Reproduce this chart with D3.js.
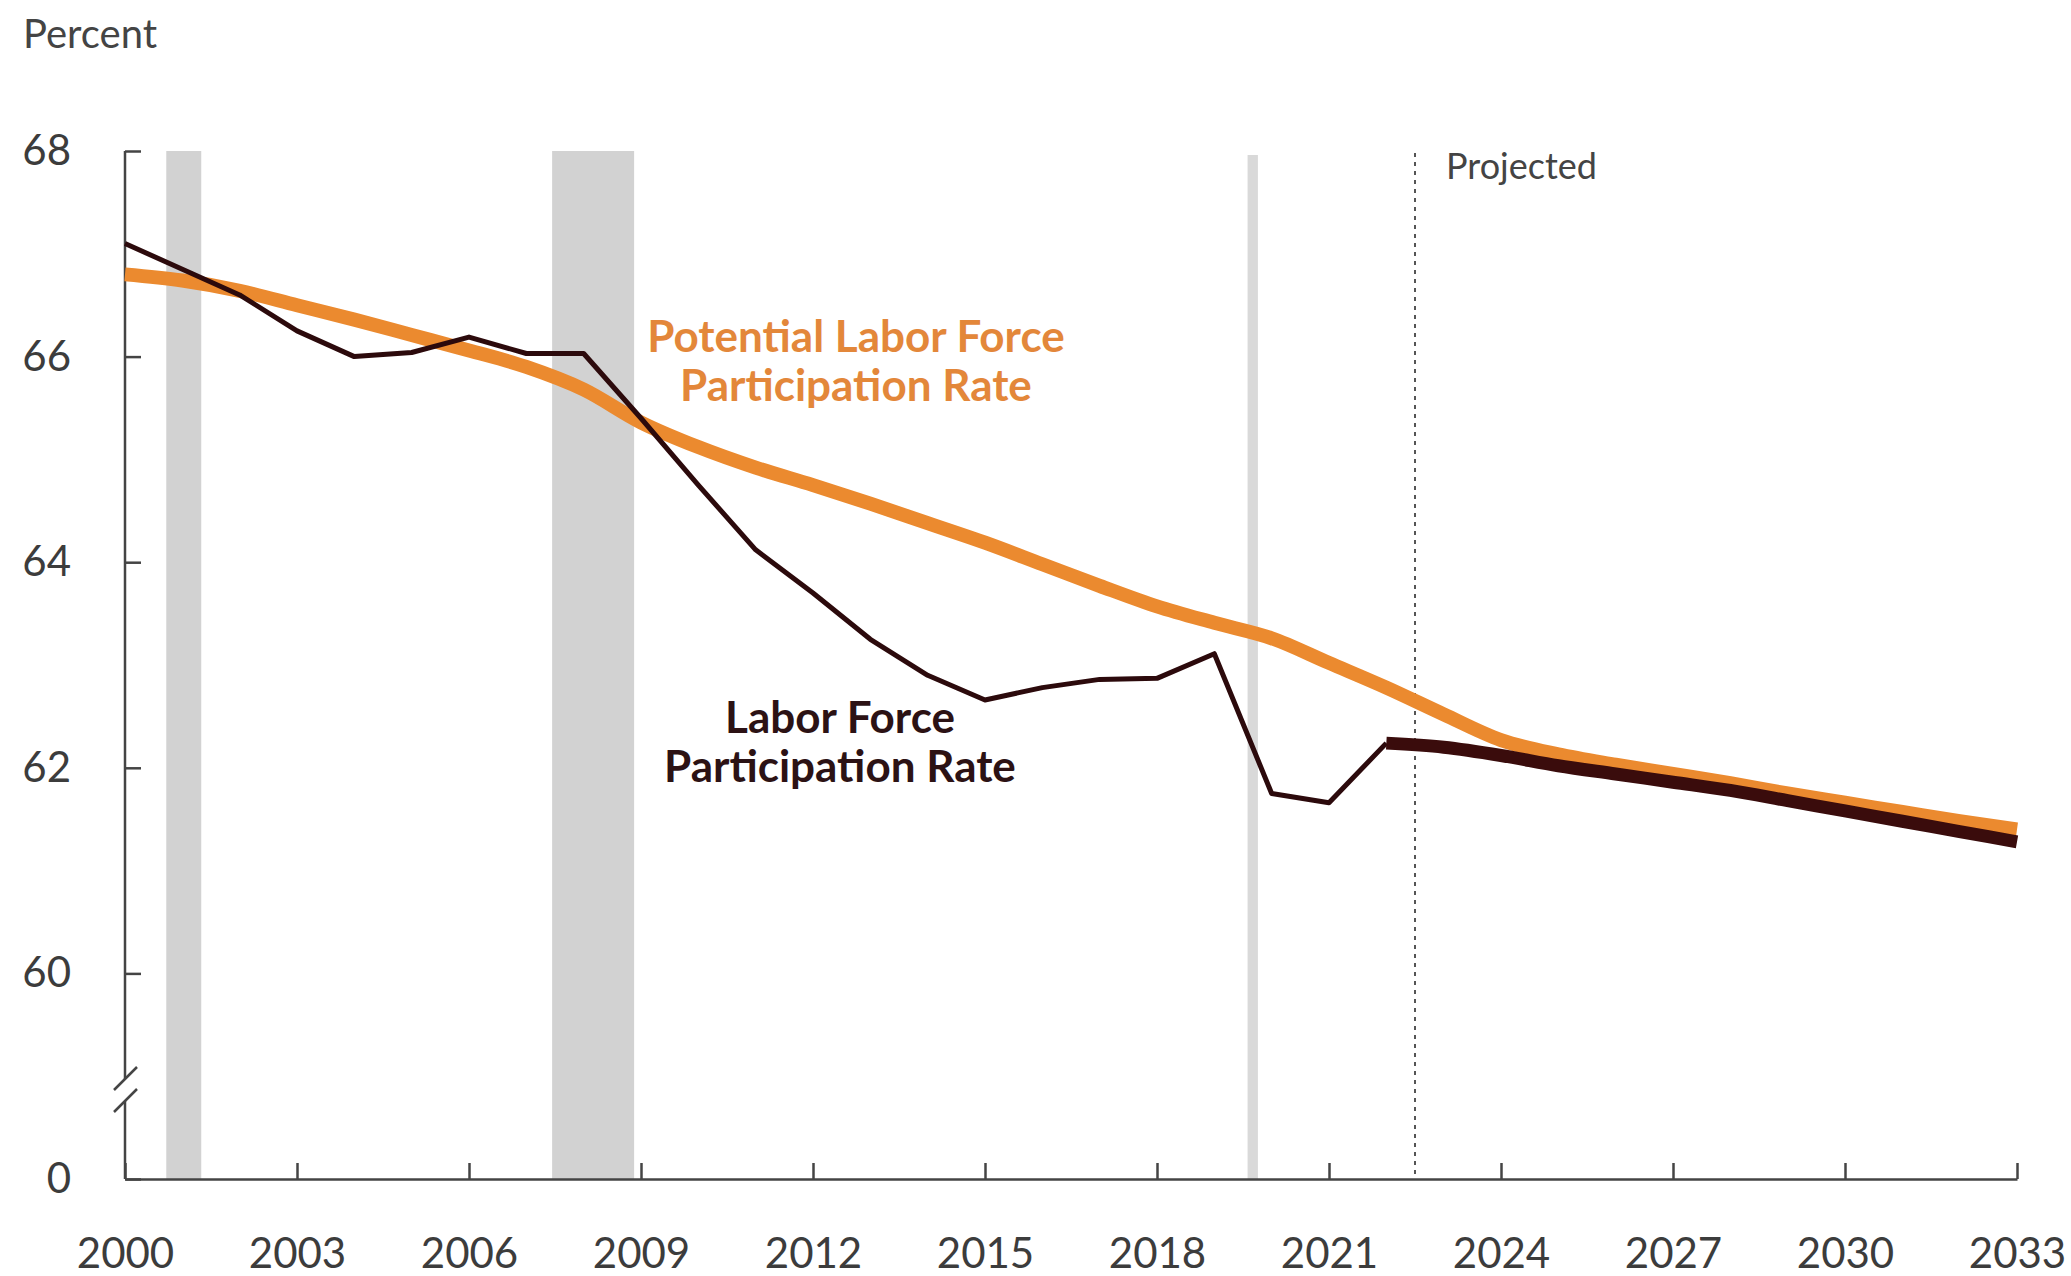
<!DOCTYPE html>
<html>
<head>
<meta charset="utf-8">
<script src="https://cdn.jsdelivr.net/npm/d3@7"></script>
<style>
  html, body { margin: 0; padding: 0; background: #fff; }
  svg { display: block; font-family: Lato, "Open Sans", sans-serif; }
</style>
</head>
<body>
<div id="chart"></div>
<script>
// years and series
const years = d3.range(2000, 2034);
const potentialRate = [66.8, 66.74, 66.64, 66.5, 66.36, 66.21, 66.06, 65.9, 65.68, 65.36,
    65.12, 64.92, 64.75, 64.57, 64.38, 64.19, 63.98, 63.77, 63.57, 63.41,
    63.26, 63.02, 62.78, 62.52, 62.27, 62.13, 62.03, 61.94, 61.85, 61.75,
    61.66, 61.57, 61.48, 61.4];
const actualYears = d3.range(2000, 2023);
const actualRate = [67.1, 66.85, 66.6, 66.25, 66.0, 66.04, 66.19, 66.03, 66.03, 65.4,
    64.75, 64.12, 63.7, 63.25, 62.9, 62.66, 62.78, 62.86, 62.87, 63.11,
    61.75, 61.66, 62.24];
const projYears = d3.range(2022, 2034);
const projRate = [62.24, 62.2, 62.12, 62.02, 61.94, 61.86, 61.78, 61.68, 61.58, 61.48, 61.38, 61.28];
const recessions = [[2000.72, 2001.33], [2007.45, 2008.88], [2019.58, 2019.76]];
const xTicks = d3.range(2000, 2034, 3);
const yTicks = [58, 60, 62, 64, 66, 68]; // 58 sits where the broken axis shows 0
const projectionStart = 2022.5;

const width = 2071, height = 1276;
const margin = { top: 151, right: 54, bottom: 97, left: 125 };

const svg = d3.select("#chart").append("svg")
    .attr("width", width)
    .attr("height", height);

const x = d3.scaleLinear().domain([2000, 2033]).range([margin.left, width - margin.right]);
const y = d3.scaleLinear().domain([58, 68]).range([height - margin.bottom, margin.top]);

// recession shading
svg.append("g").selectAll("rect")
    .data(recessions)
    .join("rect")
    .attr("x", d => x(d[0]))
    .attr("width", d => x(d[1]) - x(d[0]))
    .attr("y", (d, i) => i === 2 ? y(68) + 4 : y(68))
    .attr("height", (d, i) => y(58) - y(68) - (i === 2 ? 4 : 0))
    .attr("fill", (d, i) => i === 2 ? "#d9d9d9" : "#d2d2d2");

// projected divider
svg.append("line")
    .attr("x1", x(projectionStart)).attr("x2", x(projectionStart))
    .attr("y1", y(68) + 2).attr("y2", y(58))
    .attr("stroke", "#555")
    .attr("stroke-width", 2)
    .attr("stroke-dasharray", "4,5");

svg.append("text")
    .attr("x", x(projectionStart) + 31)
    .attr("y", 179)
    .attr("font-size", 36)
    .attr("fill", "#444")
    .text("Projected");

// axes
const yAxis = svg.append("g")
    .attr("transform", `translate(${margin.left},0)`)
    .call(d3.axisLeft(y)
        .tickValues(yTicks)
        .tickFormat(d => d === 58 ? "0" : d)
        .tickSizeInner(-16)
        .tickSizeOuter(0)
        .tickPadding(54));
yAxis.select(".domain").remove();
yAxis.selectAll("line").attr("stroke", "#444").attr("stroke-width", 2.5);
yAxis.selectAll("text")
    .attr("font-size", 42)
    .attr("fill", "#3c3c3c")
    .attr("font-family", "Lato, sans-serif");

// y axis line with a break between 60 and 0
const breakTop = 1079, breakBot = 1101;
svg.append("path")
    .attr("d", `M${margin.left},${y(68)}V${breakTop}M${margin.left},${breakBot}V${y(58)}`)
    .attr("stroke", "#444")
    .attr("stroke-width", 2.5)
    .attr("fill", "none");
[breakTop, breakBot].forEach(b => {
    svg.append("line")
        .attr("x1", margin.left - 11).attr("y1", b + 11)
        .attr("x2", margin.left + 12).attr("y2", b - 12)
        .attr("stroke", "#444")
        .attr("stroke-width", 2.5);
});

const xAxis = svg.append("g")
    .attr("transform", `translate(0,${y(58)})`)
    .call(d3.axisBottom(x)
        .tickValues(xTicks)
        .tickFormat(d3.format("d"))
        .tickSizeInner(-16)
        .tickSizeOuter(0));
xAxis.select(".domain").attr("stroke", "#444").attr("stroke-width", 2.5);
xAxis.selectAll("line").attr("stroke", "#444").attr("stroke-width", 2.5);
xAxis.selectAll("text")
    .attr("y", 89)
    .attr("dy", 0)
    .attr("font-size", 42)
    .attr("fill", "#3c3c3c")
    .attr("font-family", "Lato, sans-serif");

// lines
const potLine = d3.line()
    .x((d, i) => x(years[i]))
    .y(d => y(d))
    .curve(d3.curveMonotoneX);

svg.append("path")
    .datum(potentialRate)
    .attr("d", potLine)
    .attr("fill", "none")
    .attr("stroke", "#eb8a2f")
    .attr("stroke-width", 14);

svg.append("path")
    .datum(actualRate)
    .attr("d", d3.line().x((d, i) => x(actualYears[i])).y(d => y(d)))
    .attr("fill", "none")
    .attr("stroke", "#2c0a0c")
    .attr("stroke-width", 5)
    .attr("stroke-linejoin", "round");

svg.append("path")
    .datum(projRate)
    .attr("d", d3.line().x((d, i) => x(projYears[i])).y(d => y(d)).curve(d3.curveMonotoneX))
    .attr("fill", "none")
    .attr("stroke", "#3a0c0c")
    .attr("stroke-width", 13);

// series labels
const labels = [
    { lines: ["Potential Labor Force", "Participation Rate"], cx: 856, y0: 352, color: "#e3873a" },
    { lines: ["Labor Force", "Participation Rate"], cx: 840, y0: 733, color: "#2c1214" }
];
labels.forEach(l => {
    svg.append("text")
        .attr("text-anchor", "middle")
        .attr("font-size", 44)
        .attr("font-weight", "bold")
        .attr("fill", l.color)
        .selectAll("tspan")
        .data(l.lines)
        .join("tspan")
        .attr("x", l.cx)
        .attr("y", (d, i) => l.y0 + i * 49)
        .text(d => d);
});

svg.append("text")
    .attr("x", 23)
    .attr("y", 48)
    .attr("font-size", 40)
    .attr("fill", "#444")
    .text("Percent");
</script>
</body>
</html>
